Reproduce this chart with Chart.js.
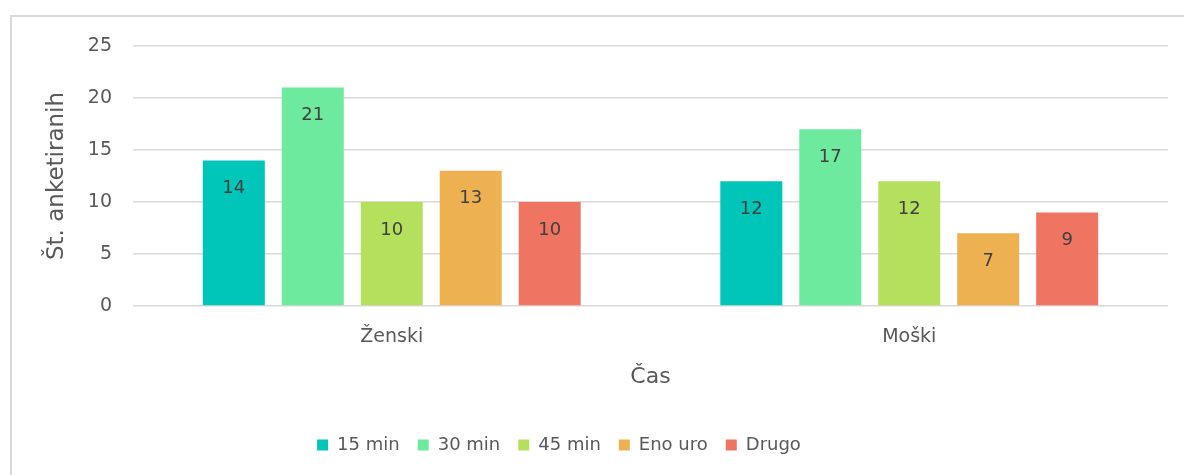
<!DOCTYPE html>
<html>
<head>
<meta charset="utf-8">
<script src="https://cdn.jsdelivr.net/npm/chart.js@4"></script>
<style>
  body { margin: 0; background: #ffffff; }
  #frame { position: absolute; left: 10px; top: 15px; width: 1200px; height: 500px; border: 2px solid #d9d9d9; }
  #wrap { position: absolute; left: 0; top: 0; width: 1184px; height: 475px; }
</style>
</head>
<body>
<div id="frame"></div>
<div id="wrap"><canvas id="myChart" width="1184" height="475"></canvas></div>
<script>
var categories = ['Ženski', 'Moški'];
var seriesNames = ['15 min', '30 min', '45 min', 'Eno uro', 'Drugo'];
var min15 = [14, 12];
var min30 = [21, 17];
var min45 = [10, 12];
var enoUro = [13, 7];
var drugo = [10, 9];
var yTicks = [0, 5, 10, 15, 20, 25];
var colors = ['#00C5B9', '#6EEA9E', '#B5E05E', '#EEB152', '#EF7461'];

var fontFamily = '"DejaVu Sans", sans-serif';

// simple value labels inside the bars, just under the top
var barLabels = {
    id: 'barLabels',
    afterDatasetsDraw: function (chart) {
        var ctx = chart.ctx;
        ctx.save();
        ctx.fillStyle = '#404040';
        ctx.font = '18px ' + fontFamily;
        ctx.textAlign = 'center';
        ctx.textBaseline = 'middle';
        chart.data.datasets.forEach(function (ds, i) {
            chart.getDatasetMeta(i).data.forEach(function (bar, j) {
                ctx.fillText(ds.data[j], bar.x, bar.y + 28);
            });
        });
        ctx.restore();
    }
};

// legend in the original sits a bit left of the canvas centre
var legendShift = {
    id: 'legendShift',
    afterLayout: function (chart) {
        chart.legend.left -= 45;
        chart.legend.right -= 45;
        chart.legend.top -= 6;
        chart.legend.bottom -= 6;
    }
};

var allData = [min15, min30, min45, enoUro, drugo];
var datasets = seriesNames.map(function (name, i) {
    return {
        label: name,
        data: allData[i],
        backgroundColor: colors[i],
        borderWidth: 0,
        categoryPercentage: 0.763,
        barPercentage: 0.785
    };
});

var ctx = document.getElementById('myChart').getContext('2d');
var myChart = new Chart(ctx, {
    type: 'bar',
    data: {
        labels: categories,
        datasets: datasets
    },
    plugins: [barLabels, legendShift],
    options: {
        responsive: false,
        animation: false,
        layout: {
            padding: { left: 40, right: 16, top: 46, bottom: 5 }
        },
        plugins: {
            legend: {
                display: true,
                position: 'bottom',
                labels: {
                    color: '#595959',
                    boxWidth: 11,
                    boxHeight: 11,
                    padding: 18,
                    font: { size: 18, family: fontFamily }
                }
            },
            tooltip: { enabled: false }
        },
        scales: {
            x: {
                grid: { display: false, drawTicks: false },
                border: { display: false },
                afterFit: function (scale) {
                    scale.height = 118;
                },
                ticks: {
                    color: '#595959',
                    padding: 20,
                    font: { size: 19, family: fontFamily }
                },
                title: {
                    display: true,
                    text: 'Čas',
                    color: '#595959',
                    padding: { top: 12, bottom: 34 },
                    font: { size: 22, family: fontFamily }
                }
            },
            y: {
                min: 0,
                max: 25,
                afterBuildTicks: function (scale) {
                    scale.ticks = yTicks.map(function (v) { return { value: v }; });
                },
                afterFit: function (scale) {
                    scale.width = 93;
                },
                grid: {
                    color: '#d9d9d9',
                    lineWidth: 1.5,
                    drawTicks: false
                },
                border: { display: false },
                ticks: {
                    color: '#595959',
                    padding: 21,
                    font: { size: 19, family: fontFamily }
                },
                title: {
                    display: true,
                    text: 'Št. anketiranih',
                    color: '#595959',
                    padding: { top: 3, bottom: 0 },
                    font: { size: 23, family: fontFamily }
                }
            }
        }
    }
});
</script>
</body>
</html>
